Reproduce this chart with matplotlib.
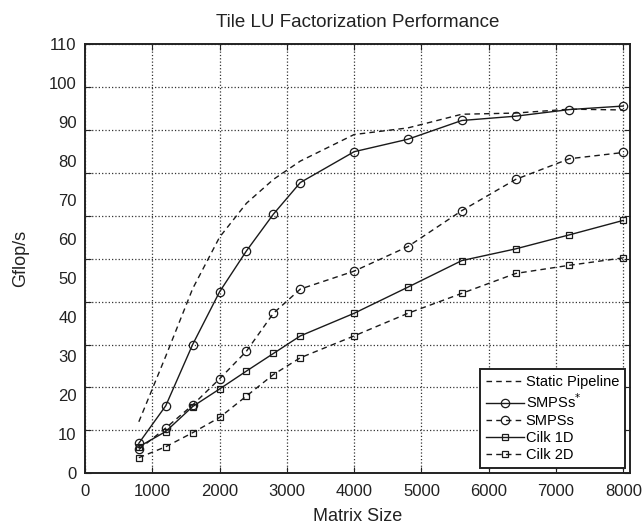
import numpy as np
import matplotlib
matplotlib.use("Agg")
import matplotlib.pyplot as plt

plt.rcParams["font.family"] = ["Liberation Sans", "DejaVu Sans"]

# matrix sizes (x) and Gflop/s
sizes = [800, 1200, 1600, 2000, 2400, 2800, 3200, 4000, 4800, 5600, 6400, 7200, 8000]
static_pipeline = [13.2, 30.0, 47.3, 60.5, 69.2, 75.3, 80.0, 86.8, 88.5, 92.0, 92.3, 93.3, 93.1]
smpss_star = [7.7, 17.3, 33.0, 46.5, 57.0, 66.4, 74.5, 82.4, 85.6, 90.4, 91.5, 93.2, 94.1]
smpss = [6.1, 11.6, 17.5, 24.2, 31.3, 41.0, 47.2, 51.8, 58.1, 67.3, 75.3, 80.6, 82.2]
cilk_1d = [6.8, 10.7, 17.1, 21.6, 26.2, 30.7, 35.2, 41.0, 47.7, 54.5, 57.5, 61.1, 64.8]
cilk_2d = [4.0, 6.8, 10.4, 14.3, 19.8, 25.3, 29.6, 35.2, 41.0, 46.1, 51.2, 53.3, 55.2]

x_ticks = list(range(0, 8001, 1000))
y_labels = list(range(0, 111, 10))

fig = plt.figure(figsize=(6.43, 5.30), dpi=100)
ax = fig.add_axes([0.1322, 0.107, 0.8476, 0.810])

ink = "#1a1a1a"
dash = (4, 3)
ax.plot(sizes, static_pipeline, ls="--", dashes=dash, color=ink, lw=1.0,
        label="Static Pipeline")
ax.plot(sizes, smpss_star, ls="-", color=ink, lw=1.0, marker="o", ms=6,
        mfc="none", mec=ink, mew=0.9, label="SMPSs$^{*}$")
ax.plot(sizes, smpss, ls="--", dashes=dash, color=ink, lw=1.0, marker="o",
        ms=6, mfc="none", mec=ink, mew=0.9, label="SMPSs")
ax.plot(sizes, cilk_1d, ls="-", color=ink, lw=1.0, marker="s", ms=4.5,
        mfc="none", mec=ink, mew=0.9, label="Cilk 1D")
ax.plot(sizes, cilk_2d, ls="--", dashes=dash, color=ink, lw=1.0, marker="s",
        ms=4.5, mfc="none", mec=ink, mew=0.9, label="Cilk 2D")

ax.set_xlim(0, 8100)
ax.set_ylim(0, 110)
ax.set_xticks(x_ticks)
ax.set_xticklabels([str(t) for t in x_ticks])

# grid/tick marks split the axis in 10 parts, labels run 0..110
ax.yaxis.remove_overlapping_locs = False
ax.set_yticks(np.linspace(0, 110, 11))
ax.set_yticklabels([])
ax.set_yticks(y_labels, minor=True)
ax.set_yticklabels([str(v) for v in y_labels], minor=True)
ax.tick_params(axis="y", which="minor", length=0, labelsize=12, pad=6,
               colors="#222222")
ax.tick_params(axis="both", which="major", direction="in", length=4,
               width=0.8, top=True, right=True, labelsize=12,
               colors="#222222")
ax.tick_params(axis="x", pad=8)

ax.grid(True, which="major", ls=":", color="#333333", lw=0.9)
for s in ax.spines.values():
    s.set_linewidth(1.4)
    s.set_color("#222222")

ax.set_xlabel("Matrix Size", fontsize=13, color="#222222", labelpad=6)
ax.set_ylabel("Gflop/s", fontsize=13, color="#222222", labelpad=14)
ax.set_title("Tile LU Factorization Performance", fontsize=13.5,
             color="#222222", pad=12)

leg = ax.legend(loc="lower right", fontsize=10.5, frameon=True, fancybox=False,
                edgecolor="#222222", framealpha=1, handlelength=2.6,
                handletextpad=0.1, labelspacing=0.22, borderpad=0.4,
                borderaxespad=0.35)
leg.get_frame().set_linewidth(1.4)

fig.savefig("out.png", dpi=100)
